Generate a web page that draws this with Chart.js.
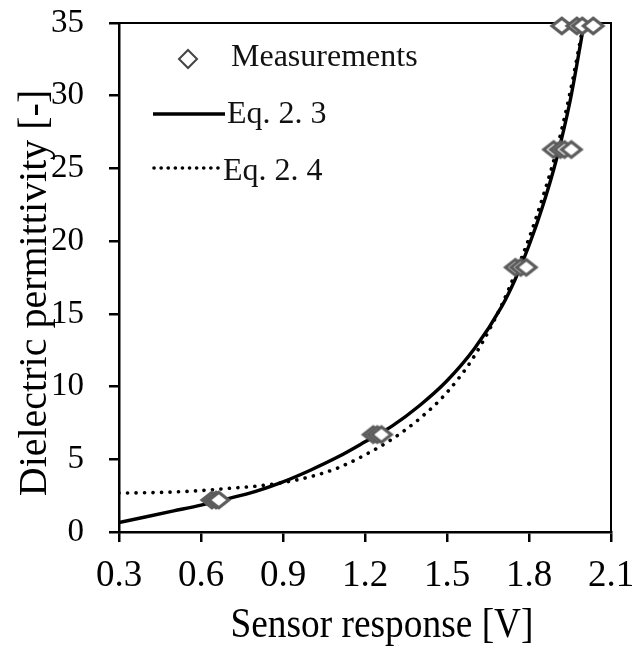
<!DOCTYPE html>
<html>
<head>
<meta charset="utf-8">
<script src="https://cdn.jsdelivr.net/npm/chart.js@4.4.1/dist/chart.umd.min.js"></script>
<style>
html, body { margin: 0; padding: 0; background: #fff; }
#chart { display: block; }
</style>
</head>
<body>
<canvas id="chart" width="632" height="649"></canvas>
<script>
var measX = [0.64, 0.655, 0.665, 1.23, 1.245, 1.26, 1.75, 1.77, 1.79, 1.89, 1.915, 1.93, 1.955, 1.92, 1.975, 1.995, 2.035];
var measY = [2.2, 2.2, 2.2, 6.7, 6.7, 6.7, 18.2, 18.2, 18.2, 26.3, 26.3, 26.3, 26.3, 34.8, 34.8, 34.8, 34.8];

// model curves, sampled from the figure
var fitX  = [0.3, 0.4, 0.5, 0.6, 0.7, 0.8, 0.9, 1.0, 1.1, 1.2, 1.3, 1.4, 1.5, 1.6, 1.7, 1.75, 1.8, 1.85, 1.9, 1.95, 2.0];
var eq23Y = [0.65, 1.05, 1.45, 1.85, 2.3, 2.8, 3.45, 4.25, 5.15, 6.2, 7.3, 8.7, 10.4, 12.6, 15.5, 17.4, 19.7, 22.4, 25.6, 29.6, 34.8];
var eq24Y = [2.68, 2.7, 2.75, 2.85, 3.0, 3.15, 3.4, 3.8, 4.4, 5.3, 6.4, 7.8, 9.6, 12.1, 15.6, 17.8, 20.2, 23.0, 26.2, 30.2, 35.0];

var xTicks = [0.3, 0.6, 0.9, 1.2, 1.5, 1.8, 2.1];
var yTicks = [0, 5, 10, 15, 20, 25, 30, 35];
var seriesNames = ['Measurements', 'Eq. 2. 3', 'Eq. 2. 4'];
var xTitle = 'Sensor response [V]';
var yTitle = 'Dielectric permittivity [-]';

var FONT = "'Liberation Serif', 'Times New Roman', serif";

function pairs(xs, ys){
	var out = [];
	for (var i = 0; i < xs.length; i++) out.push({x: xs[i], y: ys[i]});
	return out;
}

function makeDiamond(w, h, lw, color){
	var c = document.createElement('canvas');
	c.width = w + lw * 2;
	c.height = h + lw * 2;
	var g = c.getContext('2d');
	g.beginPath();
	g.moveTo(c.width / 2, lw);
	g.lineTo(c.width - lw, c.height / 2);
	g.lineTo(c.width / 2, c.height - lw);
	g.lineTo(lw, c.height / 2);
	g.closePath();
	g.fillStyle = '#fff';
	g.fill();
	g.lineWidth = lw;
	g.strokeStyle = color;
	g.stroke();
	return c;
}

var diamond = makeDiamond(20, 16, 3.2, '#5c5c5c');

// top / right frame of the plot box
var framePlugin = {
	id: 'frame',
	beforeDatasetsDraw: function(chart){
		var a = chart.chartArea, ctx = chart.ctx;
		ctx.save();
		ctx.strokeStyle = '#000';
		ctx.lineWidth = 2;
		ctx.beginPath();
		ctx.moveTo(a.left, a.top);
		ctx.lineTo(a.right, a.top);
		ctx.lineTo(a.right, a.bottom);
		ctx.stroke();
		ctx.restore();
	}
};

// axis titles, placed like the original (a bit off the axis centre)
var titlePlugin = {
	id: 'axisTitles',
	afterDraw: function(chart){
		var ctx = chart.ctx;
		ctx.save();
		ctx.fillStyle = '#000';
		ctx.textAlign = 'center';
		ctx.textBaseline = 'alphabetic';

		ctx.save();
		ctx.translate(382, 637);
		ctx.scale(0.89, 1);
		ctx.font = '42px ' + FONT;
		ctx.fillText(xTitle, 0, 0);
		ctx.restore();

		ctx.save();
		ctx.translate(46, 293);
		ctx.rotate(-Math.PI / 2);
		ctx.font = '40px ' + FONT;
		ctx.fillText(yTitle, 0, 0);
		ctx.restore();

		ctx.restore();
	}
};

// legend drawn inside the plot
var legendPlugin = {
	id: 'insideLegend',
	afterDraw: function(chart){
		var ctx = chart.ctx;
		var ds = chart.data.datasets;
		ctx.save();
		ctx.font = '32px ' + FONT;
		ctx.fillStyle = '#111';
		ctx.textBaseline = 'middle';
		ctx.textAlign = 'left';

		// diamond marker
		ctx.beginPath();
		ctx.moveTo(188, 50); ctx.lineTo(197, 59); ctx.lineTo(188, 68); ctx.lineTo(179, 59);
		ctx.closePath();
		ctx.lineWidth = 2;
		ctx.strokeStyle = '#444';
		ctx.stroke();
		ctx.fillText(ds[0].label, 231, 58);

		// solid line
		ctx.beginPath();
		ctx.moveTo(153, 114); ctx.lineTo(225, 114);
		ctx.lineWidth = 3.5;
		ctx.strokeStyle = '#000';
		ctx.stroke();
		ctx.fillText(ds[1].label, 227, 115);

		// dotted line
		ctx.beginPath();
		ctx.setLineDash([0.1, 7]);
		ctx.lineCap = 'round';
		ctx.moveTo(154, 168); ctx.lineTo(218, 168);
		ctx.lineWidth = 3.6;
		ctx.stroke();
		ctx.setLineDash([]);
		ctx.fillText(ds[2].label, 223, 172);
		ctx.restore();
	}
};

var ctx = document.getElementById('chart');
var chart = new Chart(ctx, {
	type: 'scatter',
	data: {
		datasets: [
		{
			label: seriesNames[0],
			data: pairs(measX, measY),
			pointStyle: diamond,
			pointRadius: 10,
			showLine: false,
			clip: false,
			order: 0
		},
		{
			label: seriesNames[1],
			data: pairs(fitX, eq23Y),
			showLine: true,
			borderColor: '#000',
			borderWidth: 3.4,
			pointRadius: 0,
			cubicInterpolationMode: 'monotone',
			order: 1
		},
		{
			label: seriesNames[2],
			data: pairs(fitX, eq24Y),
			showLine: true,
			borderColor: '#000',
			borderWidth: 3.6,
			borderDash: [0.1, 8.4],
			borderCapStyle: 'round',
			pointRadius: 0,
			cubicInterpolationMode: 'monotone',
			order: 2
		}
		]
	},
	options: {
		responsive: false,
		animation: false,
		devicePixelRatio: 1,
		layout: { padding: { top: 23, right: 21, left: 0, bottom: 0 } },
		plugins: {
			legend: { display: false },
			tooltip: { enabled: false }
		},
		scales: {
			x: {
				type: 'linear',
				min: 0.3,
				max: 2.1,
				afterFit: function(s){
					s.height = 117;
					s.paddingLeft = 0;
					s.paddingRight = 0;
				},
				afterBuildTicks: function(s){ s.ticks = xTicks.map(function(v){ return {value: v}; }); },
				border: { color: '#000', width: 2.5 },
				grid: { drawOnChartArea: false, drawTicks: true, tickLength: 10, color: '#000', lineWidth: 2.5 },
				ticks: {
					color: '#000',
					padding: 12,
					font: { family: FONT, size: 37 },
					callback: function(v){ return Number(v).toFixed(1); }
				}
			},
			y: {
				type: 'linear',
				min: 0,
				max: 35,
				afterFit: function(s){
					s.width = 119;
					s.paddingTop = 0;
					s.paddingBottom = 0;
				},
				afterBuildTicks: function(s){ s.ticks = yTicks.map(function(v){ return {value: v}; }); },
				border: { color: '#000', width: 2.5 },
				grid: { drawOnChartArea: false, drawTicks: true, tickLength: 10, color: '#000', lineWidth: 2.5 },
				ticks: {
					color: '#000',
					padding: 25,
					font: { family: FONT, size: 33 }
				}
			}
		}
	},
	plugins: [framePlugin, titlePlugin, legendPlugin]
});
</script>
</body>
</html>
